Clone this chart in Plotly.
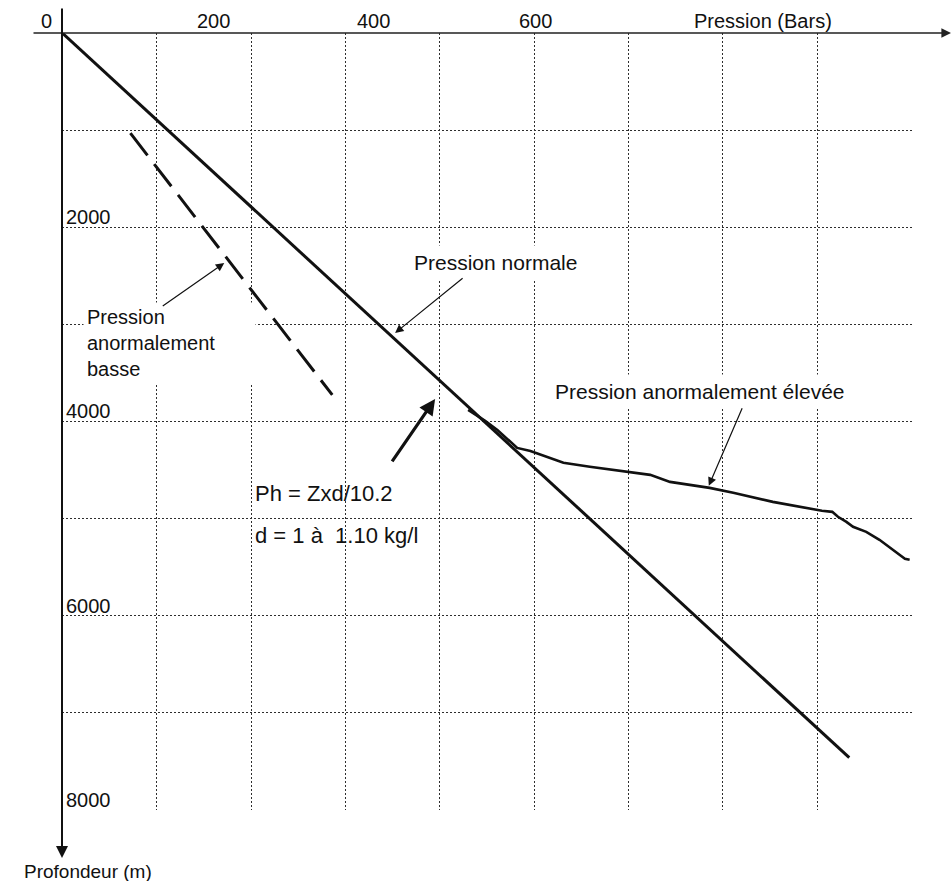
import plotly.graph_objects as go

# ---------------- data ----------------
# Pression normale (bars) vs profondeur (m)
normal_pressure = [0, 834]
normal_depth = [0, 7465]

# Pression anormalement basse (dashed)
low_pressure = [72, 286]
low_depth = [1030, 3727]

# Pression anormalement élevée
high_pressure = [430, 448, 461, 471, 482, 496, 531, 559, 604, 623, 644, 686, 711,
                 753, 805, 816, 822, 831, 838, 852, 866, 877, 885, 893, 898]
high_depth = [3882, 3995, 4088, 4180, 4273, 4304, 4427, 4468, 4530, 4551, 4623, 4685, 4736,
              4829, 4921, 4932, 4983, 5035, 5086, 5138, 5220, 5302, 5354, 5416, 5426]

pressure_tick_labels = ["0", "200", "400", "600"]
depth_tick_values = [2000, 4000, 6000, 8000]

# ---------------- layout helpers ----------------
W, H = 952, 881
ML, MR, MT, MB = 62, 40, 33, 71
XR = [-0.5, 900.5]
YR = [8004, -2]
FONT = "Liberation Sans, Arial, sans-serif"
INK = "#111111"

def xpaper(px):
    return (px - ML) / (W - ML - MR)

def ypaper(py):
    return 1 - (py - MT) / (H - MT - MB)

fig = go.Figure()

fig.add_trace(go.Scatter(x=normal_pressure, y=normal_depth, mode="lines",
                         line=dict(color=INK, width=3), showlegend=False,
                         name="Pression normale"))
fig.add_trace(go.Scatter(x=low_pressure, y=low_depth, mode="lines",
                         line=dict(color=INK, width=3, dash="28px,11px"), showlegend=False,
                         name="Pression anormalement basse"))
fig.add_trace(go.Scatter(x=high_pressure, y=high_depth, mode="lines",
                         line=dict(color=INK, width=2.6), showlegend=False,
                         name="Pression anormalement élevée"))

ann = []
# axis lines with arrows
ann.append(dict(xref="paper", yref="paper", x=xpaper(951), y=1, ax=32 - 951, ay=0,
                text="", showarrow=True, arrowhead=2, arrowsize=1.2, arrowwidth=1.6,
                arrowcolor="#222"))
ann.append(dict(xref="paper", yref="paper", x=0, y=ypaper(858), ax=0, ay=7 - 858,
                text="", showarrow=True, arrowhead=2, arrowsize=1.2, arrowwidth=2,
                arrowcolor=INK))

# top tick labels (as drawn in the original diagram)
top_label_px = [46, 213, 373, 535]
for lab, px in zip(pressure_tick_labels, top_label_px):
    ann.append(dict(xref="paper", yref="paper", x=xpaper(px), y=1, yanchor="bottom",
                    xanchor="center", text=lab, showarrow=False, yshift=-1,
                    font=dict(family=FONT, size=20, color=INK)))
ann.append(dict(xref="paper", yref="paper", x=xpaper(763), y=1, yanchor="bottom",
                xanchor="center", text="Pression (Bars)", showarrow=False, yshift=-1,
                font=dict(family=FONT, size=20, color=INK)))

# depth labels
for v in depth_tick_values:
    ann.append(dict(xref="x", yref="y", x=2, y=v, xanchor="left", yanchor="middle",
                    yshift=10, text=str(v), showarrow=False,
                    font=dict(family=FONT, size=20, color=INK)))
ann.append(dict(xref="paper", yref="paper", x=xpaper(88), y=ypaper(871),
                xanchor="center", yanchor="middle", text="Profondeur (m)", showarrow=False,
                font=dict(family=FONT, size=19, color=INK)))

# callout texts
ann.append(dict(xref="x", yref="y", x=459.5, y=2358, xanchor="center", yanchor="middle",
                text="Pression normale", showarrow=False, bgcolor="white", borderpad=5,
                font=dict(family=FONT, size=21, color=INK)))
ann.append(dict(xref="x", yref="y", x=675.5, y=3696, xanchor="center", yanchor="middle",
                text="Pression anormalement élevée", showarrow=False, bgcolor="white",
                borderpad=5, font=dict(family=FONT, size=21, color=INK)))
ann.append(dict(xref="x", yref="y", x=22.2, y=3192, xanchor="left", yanchor="middle",
                text="Pression<br>anormalement<br>basse", showarrow=False, align="left",
                width=165, bgcolor="white", borderpad=3,
                font=dict(family=FONT, size=20, color=INK)))
ann.append(dict(xref="x", yref="y", x=201.9, y=4746, xanchor="left", yanchor="middle",
                text="Ph = Zxd/10.2", showarrow=False,
                font=dict(family=FONT, size=22, color=INK)))
ann.append(dict(xref="x", yref="y", x=201.9, y=5179, xanchor="left", yanchor="middle",
                text="d = 1 à\u00a0 1.10 kg/l", showarrow=False,
                font=dict(family=FONT, size=22, color=INK)))

# callout arrows
ann.append(dict(xref="x", yref="y", x=352.6, y=3089, ax=69, ay=-56, text="",
                showarrow=True, arrowhead=2, arrowsize=1.4, arrowwidth=1.2, arrowcolor=INK))
ann.append(dict(xref="x", yref="y", x=685.1, y=4664, ax=34, ay=-79, text="",
                showarrow=True, arrowhead=2, arrowsize=1.4, arrowwidth=1.2, arrowcolor=INK))
ann.append(dict(xref="x", yref="y", x=171.5, y=2368, ax=-63, ay=44, text="",
                showarrow=True, arrowhead=2, arrowsize=1.4, arrowwidth=1.2, arrowcolor=INK))
ann.append(dict(xref="x", yref="y", x=395.0, y=3768, ax=-44, ay=64, text="",
                showarrow=True, arrowhead=2, arrowsize=1.0, arrowwidth=3.2, arrowcolor=INK))

grid = dict(showgrid=True, gridcolor="#2e2e2e", gridwidth=1, griddash="2px,2px",
            zeroline=False, showline=False, showticklabels=False, ticks="")

fig.update_layout(
    width=W, height=H,
    margin=dict(l=ML, r=MR, t=MT, b=MB, pad=0),
    paper_bgcolor="white", plot_bgcolor="white",
    xaxis=dict(range=XR, tick0=0, dtick=100, **grid),
    yaxis=dict(range=YR, tick0=0, dtick=1000, **grid),
    annotations=ann,
    showlegend=False,
    hovermode=False,
    font=dict(family=FONT, color=INK),
)

fig.write_html("out.html",
               config={"displayModeBar": False, "staticPlot": True},
               post_script="document.body.style.margin='0';document.body.style.overflow='hidden';")
